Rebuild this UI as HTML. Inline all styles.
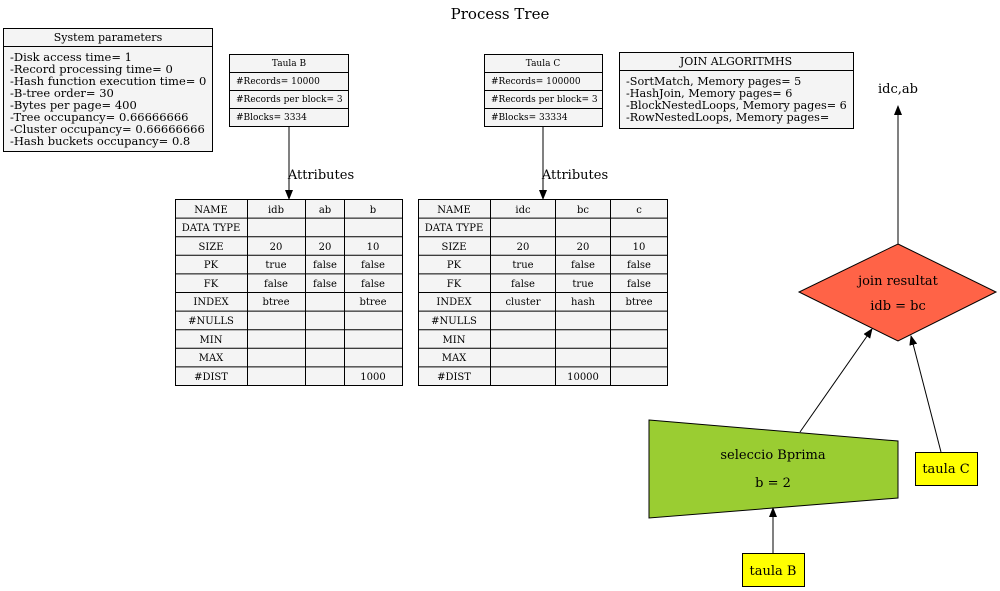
<!DOCTYPE html>
<html><head><meta charset="utf-8"><style>
html,body{margin:0;padding:0;background:#fff}
svg{display:block;font-family:"DejaVu Serif","Liberation Serif",serif}
</style></head><body>
<svg width="1000" height="591" viewBox="0 0 1000 591" xmlns="http://www.w3.org/2000/svg">
<defs><marker id="ah" markerWidth="10" markerHeight="8" refX="9" refY="4" orient="auto" markerUnits="userSpaceOnUse"><path d="M0,0 L10,4 L0,8 Z" fill="#000"/></marker></defs>
<text x="500" y="19" font-size="15" text-anchor="middle">Process Tree</text>

<rect x="3.5" y="28.5" width="209" height="123" fill="#f4f4f4" stroke="#000"/>
<line x1="3.5" y1="46.5" x2="212.5" y2="46.5" stroke="#000"/>
<text x="108" y="41" font-size="11" text-anchor="middle">System parameters</text>
<g font-size="11.5">
<text x="10" y="61">-Disk access time= 1</text>
<text x="10" y="73">-Record processing time= 0</text>
<text x="10" y="85">-Hash function execution time= 0</text>
<text x="10" y="97">-B-tree order= 30</text>
<text x="10" y="109">-Bytes per page= 400</text>
<text x="10" y="121">-Tree occupancy= 0.66666666</text>
<text x="10" y="133">-Cluster occupancy= 0.66666666</text>
<text x="10" y="145">-Hash buckets occupancy= 0.8</text>
</g>

<g font-size="9">
<rect x="229.5" y="54.5" width="119" height="72" fill="#f4f4f4" stroke="#000"/>
<line x1="229.5" y1="72.5" x2="348.5" y2="72.5" stroke="#000"/>
<line x1="229.5" y1="90.5" x2="348.5" y2="90.5" stroke="#000"/>
<line x1="229.5" y1="108.5" x2="348.5" y2="108.5" stroke="#000"/>
<text x="289" y="66" text-anchor="middle">Taula B</text>
<text x="236" y="84">#Records= 10000</text>
<text x="236" y="102">#Records per block= 3</text>
<text x="236" y="120">#Blocks= 3334</text>
</g>
<g font-size="9">
<rect x="484.5" y="54.5" width="118" height="72" fill="#f4f4f4" stroke="#000"/>
<line x1="484.5" y1="72.5" x2="602.5" y2="72.5" stroke="#000"/>
<line x1="484.5" y1="90.5" x2="602.5" y2="90.5" stroke="#000"/>
<line x1="484.5" y1="108.5" x2="602.5" y2="108.5" stroke="#000"/>
<text x="543" y="66" text-anchor="middle">Taula C</text>
<text x="491" y="84">#Records= 100000</text>
<text x="491" y="102">#Records per block= 3</text>
<text x="491" y="120">#Blocks= 33334</text>
</g>

<rect x="619.5" y="52.5" width="234" height="76" fill="#f4f4f4" stroke="#000"/>
<line x1="619.5" y1="70.5" x2="853.5" y2="70.5" stroke="#000"/>
<text x="736" y="65" font-size="11" text-anchor="middle">JOIN ALGORITMHS</text>
<g font-size="11.2">
<text x="626" y="85">-SortMatch, Memory pages= 5</text>
<text x="626" y="97">-HashJoin, Memory pages= 6</text>
<text x="626" y="109">-BlockNestedLoops, Memory pages= 6</text>
<text x="626" y="121">-RowNestedLoops, Memory pages=</text>
</g>

<line x1="289" y1="126" x2="289" y2="199" stroke="#000" marker-end="url(#ah)"/>
<text x="321" y="179" font-size="13" text-anchor="middle">Attributes</text>
<line x1="543" y1="126" x2="543" y2="199" stroke="#000" marker-end="url(#ah)"/>
<text x="575" y="179" font-size="13" text-anchor="middle">Attributes</text>

<g font-size="10" text-anchor="middle">
<rect x="175.5" y="199.5" width="227" height="186" fill="#f4f4f4" stroke="#000"/>
<g stroke="#000">
<line x1="247.5" y1="199.5" x2="247.5" y2="385.5"/><line x1="305.5" y1="199.5" x2="305.5" y2="385.5"/><line x1="344.5" y1="199.5" x2="344.5" y2="385.5"/>
<line x1="175.5" y1="218.1" x2="402.5" y2="218.1"/><line x1="175.5" y1="236.7" x2="402.5" y2="236.7"/><line x1="175.5" y1="255.3" x2="402.5" y2="255.3"/><line x1="175.5" y1="273.9" x2="402.5" y2="273.9"/><line x1="175.5" y1="292.5" x2="402.5" y2="292.5"/><line x1="175.5" y1="311.1" x2="402.5" y2="311.1"/><line x1="175.5" y1="329.7" x2="402.5" y2="329.7"/><line x1="175.5" y1="348.3" x2="402.5" y2="348.3"/><line x1="175.5" y1="366.9" x2="402.5" y2="366.9"/>
</g>
<text x="211" y="213">NAME</text><text x="276" y="213">idb</text><text x="325" y="213">ab</text><text x="373" y="213">b</text>
<text x="211" y="231">DATA TYPE</text>
<text x="211" y="250">SIZE</text><text x="276" y="250">20</text><text x="325" y="250">20</text><text x="373" y="250">10</text>
<text x="211" y="268">PK</text><text x="276" y="268">true</text><text x="325" y="268">false</text><text x="373" y="268">false</text>
<text x="211" y="287">FK</text><text x="276" y="287">false</text><text x="325" y="287">false</text><text x="373" y="287">false</text>
<text x="211" y="305">INDEX</text><text x="276" y="305">btree</text><text x="373" y="305">btree</text>
<text x="211" y="324">#NULLS</text>
<text x="211" y="343">MIN</text>
<text x="211" y="361">MAX</text>
<text x="211" y="380">#DIST</text><text x="373" y="380">1000</text>
</g>

<g font-size="10" text-anchor="middle">
<rect x="418.5" y="199.5" width="249" height="186" fill="#f4f4f4" stroke="#000"/>
<g stroke="#000">
<line x1="490.5" y1="199.5" x2="490.5" y2="385.5"/><line x1="555.5" y1="199.5" x2="555.5" y2="385.5"/><line x1="610.5" y1="199.5" x2="610.5" y2="385.5"/>
<line x1="418.5" y1="218.1" x2="667.5" y2="218.1"/><line x1="418.5" y1="236.7" x2="667.5" y2="236.7"/><line x1="418.5" y1="255.3" x2="667.5" y2="255.3"/><line x1="418.5" y1="273.9" x2="667.5" y2="273.9"/><line x1="418.5" y1="292.5" x2="667.5" y2="292.5"/><line x1="418.5" y1="311.1" x2="667.5" y2="311.1"/><line x1="418.5" y1="329.7" x2="667.5" y2="329.7"/><line x1="418.5" y1="348.3" x2="667.5" y2="348.3"/><line x1="418.5" y1="366.9" x2="667.5" y2="366.9"/>
</g>
<text x="454" y="213">NAME</text><text x="523" y="213">idc</text><text x="583" y="213">bc</text><text x="639" y="213">c</text>
<text x="454" y="231">DATA TYPE</text>
<text x="454" y="250">SIZE</text><text x="523" y="250">20</text><text x="583" y="250">20</text><text x="639" y="250">10</text>
<text x="454" y="268">PK</text><text x="523" y="268">true</text><text x="583" y="268">false</text><text x="639" y="268">false</text>
<text x="454" y="287">FK</text><text x="523" y="287">false</text><text x="583" y="287">true</text><text x="639" y="287">false</text>
<text x="454" y="305">INDEX</text><text x="523" y="305">cluster</text><text x="583" y="305">hash</text><text x="639" y="305">btree</text>
<text x="454" y="324">#NULLS</text>
<text x="454" y="343">MIN</text>
<text x="454" y="361">MAX</text>
<text x="454" y="380">#DIST</text><text x="583" y="380">10000</text>
</g>

<text x="898" y="93" font-size="13" text-anchor="middle">idc,ab</text>
<line x1="898" y1="244" x2="898" y2="106" stroke="#000" marker-end="url(#ah)"/>
<polygon points="898,244 996,292 898,341 799,292" fill="#ff6347" stroke="#000"/>
<text x="898" y="285" font-size="13" text-anchor="middle">join resultat</text>
<text x="898" y="310" font-size="13" text-anchor="middle">idb = bc</text>

<polygon points="649,420 898,441 898,498 649,518" fill="#9acd32" stroke="#000"/>
<text x="773" y="459" font-size="13" text-anchor="middle">seleccio Bprima</text>
<text x="773" y="487" font-size="13" text-anchor="middle">b = 2</text>

<line x1="800" y1="432" x2="872" y2="329" stroke="#000" marker-end="url(#ah)"/>
<line x1="941" y1="452" x2="911" y2="336" stroke="#000" marker-end="url(#ah)"/>

<rect x="915.5" y="452.5" width="62" height="33" fill="#ffff00" stroke="#000"/>
<text x="946" y="473" font-size="13" text-anchor="middle">taula C</text>

<line x1="773" y1="553" x2="773" y2="508" stroke="#000" marker-end="url(#ah)"/>
<rect x="742.5" y="553.5" width="62" height="33" fill="#ffff00" stroke="#000"/>
<text x="773" y="575" font-size="13" text-anchor="middle">taula B</text>
</svg>
</body></html>
